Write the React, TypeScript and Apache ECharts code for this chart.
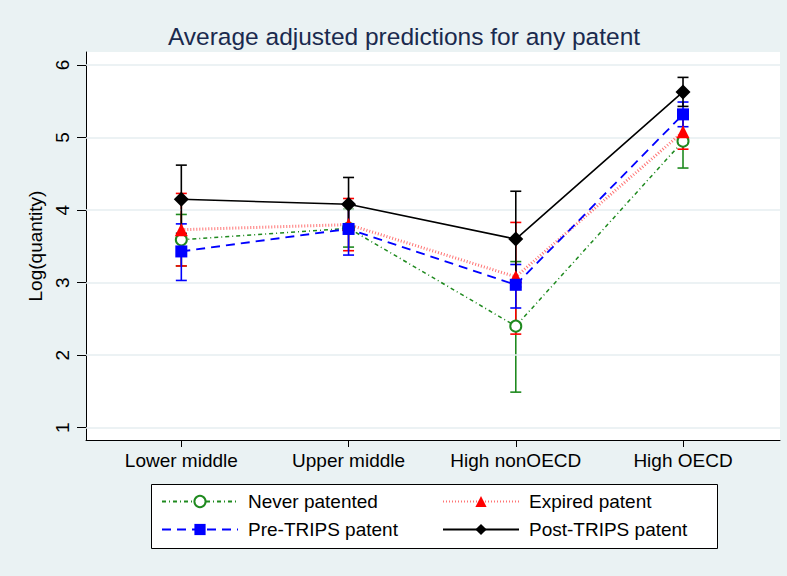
import React, { useEffect, useRef } from "react";
import * as echarts from "echarts";

const categories = ["Lower middle", "Upper middle", "High nonOECD", "High OECD"];
const catPos = [1, 2, 3, 4];
const yTicks = [1, 2, 3, 4, 5, 6];

const neverMean = [3.59, 3.75, 2.40, 4.95];
const neverLo = [3.23, 3.49, 1.49, 4.58];
const neverHi = [3.94, 4.01, 3.29, 5.32];

const expiredMean = [3.73, 3.80, 3.08, 5.08];
const expiredLo = [3.23, 3.44, 2.29, 4.84];
const expiredHi = [4.23, 4.16, 3.83, 5.32];

const preMean = [3.43, 3.74, 2.97, 5.32];
const preLo = [3.03, 3.38, 2.65, 5.15];
const preHi = [3.81, 4.10, 3.25, 5.49];

const postMean = [4.15, 4.08, 3.60, 5.63];
const postLo = [3.68, 3.70, 2.94, 5.43];
const postHi = [4.62, 4.45, 4.26, 5.83];

const FONT = "Liberation Sans";
const GREEN = "#1f8a1f";
const RED = "#ff0000";
const BLUE = "#0000ff";
const BLACK = "#000000";

function errSeries(name: string, lo: number[], hi: number[], color: string, z: number) {
  return {
    name: name + " CI",
    type: "custom",
    z,
    silent: true,
    data: catPos.map((x, i) => [x, lo[i], hi[i]]),
    encode: { x: 0, y: [1, 2] },
    renderItem: (params: any, api: any) => {
      const x = api.value(0);
      const p1 = api.coord([x, api.value(1)]);
      const p2 = api.coord([x, api.value(2)]);
      const hw = 5.5;
      const style = { stroke: color, lineWidth: 1.6, fill: "none" };
      return {
        type: "group",
        children: [
          { type: "line", shape: { x1: p1[0], y1: p1[1], x2: p2[0], y2: p2[1] }, style },
          { type: "line", shape: { x1: p1[0] - hw, y1: p1[1], x2: p1[0] + hw, y2: p1[1] }, style },
          { type: "line", shape: { x1: p2[0] - hw, y1: p2[1], x2: p2[0] + hw, y2: p2[1] }, style },
        ],
      };
    },
  };
}

function lineSeries(name: string, vals: number[], color: string, lineColor: string, symbol: string, size: number, lineType: any, width: number, z: number, hollow = false) {
  return {
    name,
    type: "line",
    z,
    data: catPos.map((x, i) => [x, vals[i]]),
    symbol,
    symbolSize: size,
    showAllSymbol: true,
    itemStyle: hollow
      ? { color: color, borderColor: color, borderWidth: 2 }
      : { color, borderWidth: 0 },
    lineStyle: { color: lineColor, type: lineType, width },
    emphasis: { disabled: true },
  };
}

export default function App() {
  const ref = useRef<HTMLDivElement>(null);
  useEffect(() => {
    if (!ref.current) return;
    const chart = echarts.init(ref.current, null, { renderer: "svg" });
    const option: any = {
      animation: false,
      backgroundColor: "#eaf2f3",
      textStyle: { fontFamily: FONT },
      grid: {
        left: 86,
        right: 7,
        top: 52,
        bottom: 136,
        show: true,
        backgroundColor: "#ffffff",
        borderWidth: 0,
      },
      xAxis: {
        type: "value",
        min: 0.43,
        max: 4.58,
        axisLine: { show: true, lineStyle: { color: "#000", width: 1 } },
        axisTick: { show: true, length: 7, customValues: catPos, lineStyle: { color: "#000" } },
        axisLabel: {
          customValues: catPos,
          formatter: (v: number) => categories[Math.round(v) - 1] ?? "",
          fontFamily: FONT,
          fontSize: 19,
          color: "#000",
          margin: 11,
        },
        splitLine: { show: false },
      },
      yAxis: {
        type: "value",
        min: 0.83,
        max: 6.18,
        name: "Log(quantity)",
        nameLocation: "middle",
        nameGap: 36,
        nameTextStyle: { fontFamily: FONT, fontSize: 19, color: "#000" },
        axisLine: { show: true, lineStyle: { color: "#000", width: 1 } },
        axisTick: { show: true, length: 9, customValues: yTicks, lineStyle: { color: "#000" } },
        axisLabel: {
          customValues: yTicks,
          rotate: 90,
          fontFamily: FONT,
          fontSize: 19,
          color: "#000",
          margin: 14,
        },
        splitLine: { show: false },
      },
      legend: [
        {
          left: 161,
          top: 492,
          orient: "vertical",
          itemWidth: 76,
          itemHeight: 14,
          itemGap: 9,
          padding: 0,
          data: ["Never patented", "Pre-TRIPS patent"],
          textStyle: { fontFamily: FONT, fontSize: 19, color: "#000", padding: [0, 0, 0, 5] },
          selectedMode: false,
        },
        {
          left: 442,
          top: 492,
          orient: "vertical",
          itemWidth: 76,
          itemHeight: 14,
          itemGap: 9,
          padding: 0,
          data: ["Expired patent", "Post-TRIPS patent"],
          textStyle: { fontFamily: FONT, fontSize: 19, color: "#000", padding: [0, 0, 0, 5] },
          selectedMode: false,
        },
      ],
      graphic: [
        {
          type: "rect",
          z: 1,
          shape: { x: 151.5, y: 484.5, width: 566, height: 64 },
          style: { fill: "#ffffff", stroke: "#000", lineWidth: 1 },
        },
        {
          type: "text",
          z: 5,
          x: 404,
          y: 36,
          style: {
            text: "Average adjusted predictions for any patent",
            fontFamily: FONT,
            fontSize: 24.5,
            fill: "#1a2a4e",
            textAlign: "center",
            textVerticalAlign: "middle",
          },
        },
      ],
      series: [
        {
          name: "grid",
          type: "line",
          z: 0,
          data: [],
          markLine: {
            silent: true,
            symbol: "none",
            label: { show: false },
            lineStyle: { color: "#e6eef0", type: "solid", width: 1.5 },
            data: yTicks.map((v) => ({ yAxis: v })),
          },
        },
        errSeries("Never patented", neverLo, neverHi, GREEN, 2),
        errSeries("Expired patent", expiredLo, expiredHi, RED, 3),
        errSeries("Pre-TRIPS patent", preLo, preHi, BLUE, 4),
        errSeries("Post-TRIPS patent", postLo, postHi, BLACK, 5),
        lineSeries("Never patented", neverMean, GREEN, GREEN, "emptyCircle", 11, [4, 3, 1, 3], 1.5, 6, true),
        lineSeries("Expired patent", expiredMean, RED, "rgba(255,0,0,0.55)", "triangle", 13, [1, 2], 3, 7),
        lineSeries("Pre-TRIPS patent", preMean, BLUE, BLUE, "rect", 12, [9, 6], 1.8, 8),
        lineSeries("Post-TRIPS patent", postMean, BLACK, BLACK, "diamond", 15, "solid", 1.6, 9),
      ],
    };
    chart.setOption(option);
    return () => chart.dispose();
  }, []);
  return (
    <div
      ref={ref}
      style={{ position: "fixed", left: 0, top: 0, width: 787, height: 576 }}
    />
  );
}
